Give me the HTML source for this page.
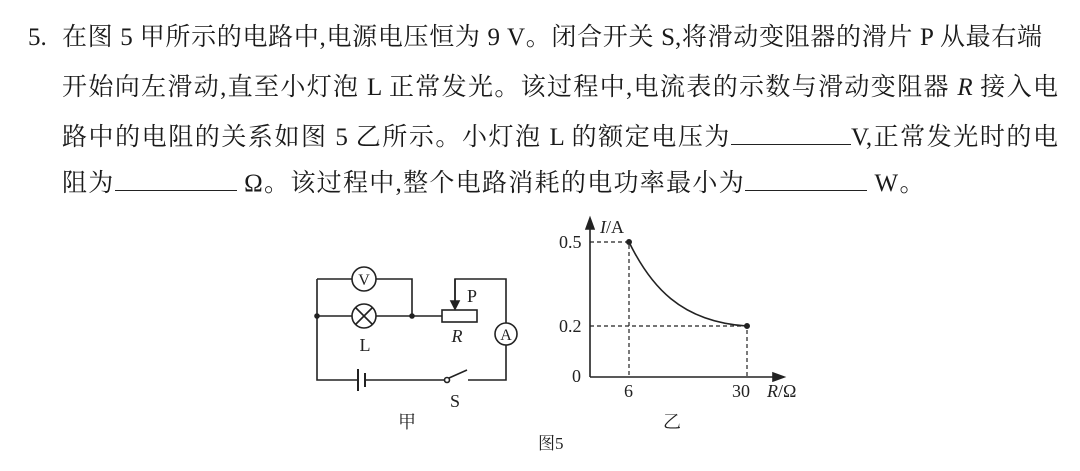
<!DOCTYPE html>
<html><head><meta charset="utf-8"><style>
body{margin:0;width:1080px;height:471px;background:#fff;position:relative;overflow:hidden;font-family:"Liberation Serif","Noto Serif CJK SC",serif;color:#1a1a1a}
.l{position:absolute;font-size:25px;white-space:nowrap;line-height:30px}
.j{text-align:justify;text-align-last:justify}
.u{display:inline-block;border-bottom:1.5px solid #222;height:22px;vertical-align:baseline}
svg{position:absolute;left:0;top:0}
</style></head><body>
<div class="l" style="left:28px;top:23px">5.</div>
<div class="l j" style="left:62px;top:23px;width:980px">在图 5 甲所示的电路中,电源电压恒为 9 V。闭合开关 S,将滑动变阻器的滑片 P 从最右端</div>
<div class="l j" style="left:62px;top:73px;width:996px">开始向左滑动,直至小灯泡 L 正常发光。该过程中,电流表的示数与滑动变阻器 <i>R</i> 接入电</div>
<div class="l j" style="left:62px;top:122px;width:996px">路中的电阻的关系如图 5 乙所示。小灯泡 L 的额定电压为<span class="u" style="width:120px"></span>V,正常发光时的电</div>
<div class="l" style="left:62px;top:168px;letter-spacing:1.3px">阻为<span class="u" style="width:122px"></span>&nbsp;Ω。该过程中,整个电路消耗的电功率最小为<span class="u" style="width:122px"></span>&nbsp;W。</div>
<svg width="1080" height="471" stroke="#222" stroke-width="1.6" fill="none" font-family="Liberation Serif, Noto Serif CJK SC, serif">
<path d="M317 279H352M376 279H412V316M317 279V380H358M365 380H447M468 380H506V345M506 323V279H455V304"/>
<path d="M317 316H352M376 316H442M477 316"/>
<circle cx="364" cy="279" r="12"/><circle cx="364" cy="316" r="12"/>
<path d="M356 308L372 324M372 308L356 324"/>
<circle cx="506" cy="334" r="11"/>
<rect x="442" y="310" width="35" height="12"/>
<path d="M455 279V308" /><path d="M451 301L455 309L459 301Z" fill="#222"/>
<path d="M358 369V391M365 373V387" stroke-width="2"/>
<circle cx="447" cy="380" r="2.5" fill="#fff"/><path d="M449 378L467 370"/>
<circle cx="317" cy="316" r="2" fill="#222"/><circle cx="412" cy="316" r="2" fill="#222"/>
<g fill="#222" stroke="none" font-size="16" text-anchor="middle">
<text x="364" y="285">V</text><text x="506" y="340">A</text>
<text x="365" y="351" font-size="18">L</text><text x="457" y="342" font-size="18" font-style="italic">R</text>
<text x="472" y="302" font-size="18">P</text><text x="455" y="407" font-size="18">S</text>
<text x="407" y="428" font-size="18">甲</text>
</g>
<path d="M590 377V222M590 377H780"/>
<path d="M586 229L590 218L594 229Z M773 373L784 377L773 381Z" fill="#222"/>
<path d="M590 242H629V377M590 326H747V377" stroke-dasharray="4 3" stroke-width="1.2"/>
<path d="M629 242C650 285 680 322 747 326"/>
<circle cx="629" cy="242" r="2.2" fill="#222"/><circle cx="747" cy="326" r="2.2" fill="#222"/>
<g fill="#222" stroke="none" font-size="18">
<text x="600" y="233"><tspan font-style="italic">I</tspan>/A</text>
<text x="559" y="248">0.5</text><text x="559" y="332">0.2</text><text x="572" y="382">0</text>
<text x="624" y="397">6</text><text x="732" y="397">30</text>
<text x="767" y="397"><tspan font-style="italic">R</tspan>/Ω</text>
<text x="663" y="428">乙</text>
<text x="538" y="449" font-size="17">图5</text>
</g>
</svg>
</body></html>
